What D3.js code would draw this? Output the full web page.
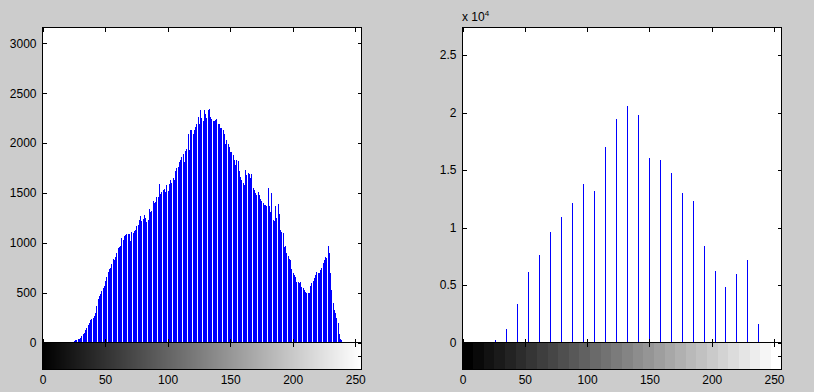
<!DOCTYPE html>
<html>
<head>
<meta charset="utf-8">
<script src="https://cdn.jsdelivr.net/npm/d3@7"></script>
<style>
html,body{margin:0;padding:0;background:#cccccc;}
svg{display:block;}
text{font-family:"Liberation Sans",Arial,Helvetica,sans-serif;}
</style>
</head>
<body>
<svg id="chart" width="814" height="392"></svg>
<script>
// ---------- DATA ----------
// Left: 256-bin histogram (gray levels 0..255)
const leftCounts = [
 0,0,0,0,0,0,0,0,0,0, 0,0,0,0,0,0,0,0,0,0, 0,
 5,8,10,10,15,22,30,35,38,45,
 70,85,100,130,150,175,195,230,240,250,
 265,300,365,440,470,490,520,545,570,620,
 660,710,740,745,790,840,830,860,900,950,
 960,970,1045,1030,1070,1080,1090,1090,1085,1020,
 1110,1095,1120,1130,1170,1180,1225,1265,1215,1240,
 1277,1250,1210,1225,1335,1310,1320,1417,1395,1410,
 1455,1460,1588,1490,1512,1530,1535,1510,1578,1520,
 1595,1628,1605,1655,1630,1722,1750,1762,1812,1835,
 1860,1888,1812,1922,1945,2095,1935,2135,2135,2095,
 2130,2160,2196,2262,2190,2336,2256,2222,2336,2290,
 2256,2330,2346,2262,2240,2222,2222,2230,2246,2196,
 2196,2155,2155,2130,2095,1995,2029,1990,1962,1912,
 1912,1880,1828,1778,1835,1825,1720,1660,1628,1600,
 1578,1728,1680,1700,1695,1650,1688,1551,1525,1500,
 1477,1508,1480,1435,1420,1402,1378,1375,1372,1545,
 1372,1305,1495,1227,1220,1372,1245,1388,1288,1127,
 1110,1100,960,965,893,867,840,827,733,700,
 676,660,610,610,593,610,560,543,526,510,
 493,493,500,570,593,620,643,676,710,693,
 700,730,743,793,830,861,850,967,900,700,
 526,392,330,297,241,197,90,40,24,
 0,0,0,0,0,0,0,0,0,0,0,0,0,0,0,0
];
// Right: 30-bin histogram
const rightCounts = [0,0,0,200,1140,3310,6170,7620,9640,10940,12150,13800,13190,17000,19430,
                     20560,19770,16050,15880,14750,13020,12330,8430,6260,4870,6000,7210,1580,0,0];
const xTicks = [0,50,100,150,200,250];
const leftYTicks = [0,500,1000,1500,2000,2500,3000];
const rightYTicks = [0,5000,10000,15000,20000,25000];
const rightYTickLabels = ["0","0.5","1","1.5","2","2.5"];
const leftYMax = 3160, rightYMax = 27400;
const leftXMax = 255, rightXMax = 256;

// ---------- DRAW ----------
const svg = d3.select("#chart");

function panel(opts){
  const {x0,x1,y0,y1,cb1,xMax,yMax,counts,binX,yTicks,yLabels,nColors} = opts;
  const g = svg.append("g");
  const x = d3.scaleLinear().domain([0,xMax]).range([x0,x1]);
  const y = d3.scaleLinear().domain([0,yMax]).range([y1,y0]);

  // white plot background
  g.append("rect").attr("x",x0).attr("y",y0).attr("width",x1-x0).attr("height",y1-y0).attr("fill","#fff");

  // stems
  g.append("g").selectAll("line").data(counts).join("line")
    .attr("shape-rendering","crispEdges")
    .attr("x1",(d,i)=>Math.round(x(binX(i)))+0.5)
    .attr("x2",(d,i)=>Math.round(x(binX(i)))+0.5)
    .attr("y1",y(0))
    .attr("y2",d=>y(d))
    .attr("stroke",d=>d>0?"#0000ff":"none")
    .attr("stroke-width",1);

  // colorbar
  const cb = d3.scaleBand().domain(d3.range(nColors)).range([x0,x1]);
  g.append("g").selectAll("rect").data(d3.range(nColors)).join("rect")
    .attr("shape-rendering","crispEdges")
    .attr("x",i=>cb(i)).attr("width",cb.bandwidth()+0.6)
    .attr("y",y1).attr("height",cb1-y1)
    .attr("fill",i=>{const v=Math.round(255*i/(nColors-1));return `rgb(${v},${v},${v})`;});

  // frames
  g.append("rect").attr("x",x0).attr("y",y0).attr("width",x1-x0).attr("height",cb1-y0)
    .attr("fill","none").attr("stroke","#000").attr("shape-rendering","crispEdges");
  g.append("line").attr("x1",x0).attr("x2",x1).attr("y1",y1).attr("y2",y1)
    .attr("stroke","#000").attr("shape-rendering","crispEdges");

  // left y axis (inward ticks, labels)
  const ya = d3.axisLeft(y).tickValues(yTicks).tickSizeInner(-4).tickSizeOuter(0).tickPadding(6)
    .tickFormat((d,i)=>yLabels[i]);
  const gy = g.append("g").attr("transform",`translate(${x0},0)`).call(ya);
  // right y axis ticks
  const yr = d3.axisRight(y).tickValues(yTicks).tickSizeInner(-4).tickSizeOuter(0).tickFormat("");
  const gyr = g.append("g").attr("transform",`translate(${x1},0)`).call(yr);
  // top x ticks (inward)
  const xt = d3.axisTop(x).tickValues(xTicks).tickSizeInner(-4).tickSizeOuter(0).tickFormat("");
  const gxt = g.append("g").attr("transform",`translate(0,${y0})`).call(xt);
  // straddling ticks on zero line
  const xz = d3.axisBottom(x).tickValues(xTicks).tickSizeInner(4).tickSizeOuter(0).tickFormat("");
  const gxz = g.append("g").attr("transform",`translate(0,${y1})`).call(xz);
  const xz2 = d3.axisTop(x).tickValues(xTicks).tickSizeInner(4).tickSizeOuter(0).tickFormat("");
  const gxz2 = g.append("g").attr("transform",`translate(0,${y1})`).call(xz2);
  // colorbar mid tick on right
  g.append("line").attr("x1",x1-4).attr("x2",x1).attr("y1",(y1+cb1)/2).attr("y2",(y1+cb1)/2)
    .attr("stroke","#000").attr("shape-rendering","crispEdges");
  // bottom labels
  const xb = d3.axisBottom(x).tickValues(xTicks).tickSizeInner(0).tickSizeOuter(0).tickPadding(6);
  const gxb = g.append("g").attr("transform",`translate(0,${cb1})`).call(xb);

  [gy,gyr,gxt,gxz,gxz2,gxb].forEach(a=>{
    a.select(".domain").remove();
    a.selectAll("line").attr("stroke","#000").attr("shape-rendering","crispEdges");
    a.selectAll("text").attr("fill","#000").style("font-size","12px")
      .style("font-family",'"Liberation Sans",Arial,Helvetica,sans-serif');
  });
  return g;
}

panel({x0:42.5,x1:361.5,y0:27.5,y1:342.5,cb1:369.5,xMax:leftXMax,yMax:leftYMax,
  counts:leftCounts,binX:i=>i,yTicks:leftYTicks,yLabels:leftYTicks.map(String),nColors:256});

panel({x0:462.5,x1:781.5,y0:27.5,y1:342.5,cb1:369.5,xMax:rightXMax,yMax:rightYMax,
  counts:rightCounts,binX:i=>i*255/(rightCounts.length-1),yTicks:rightYTicks,yLabels:rightYTickLabels,nColors:rightCounts.length});

// exponent label
const ex = svg.append("text").attr("x",462).attr("y",21).attr("fill","#000").style("font-size","12px");
ex.append("tspan").text("x 10");
ex.append("tspan").attr("dy",-5).style("font-size","8px").text("4");
</script>
</body>
</html>
